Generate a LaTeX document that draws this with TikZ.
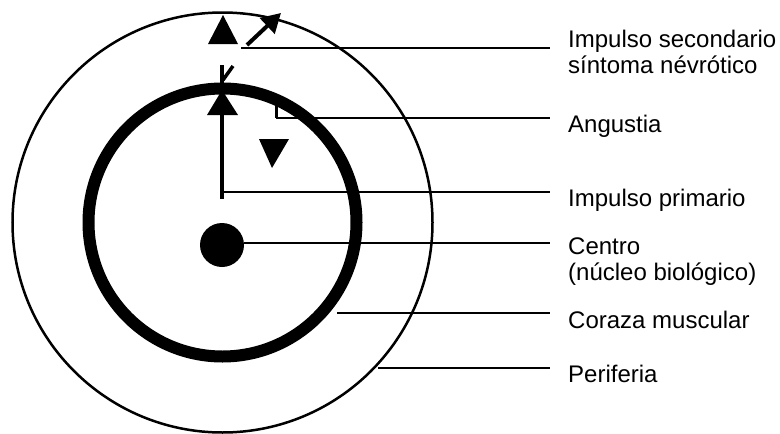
\documentclass[tikz,border=0pt]{standalone}
\usepackage{fontspec}
\setmainfont{Liberation Sans}
\usetikzlibrary{arrows.meta, positioning}

\begin{document}
\begin{tikzpicture}[
  x=1pt, y=-1pt,
  font=\fontsize{24}{26}\selectfont,
  lbl/.style={anchor=base west, inner sep=0pt, align=left},
  leader/.style={line width=1.5pt},
  tri/.style={fill=black, draw=none},
  impulse/.style={line width=4pt}
]
  \useasboundingbox (0,0) rectangle (780,434);

  % circles
  \coordinate (mid) at (222.5,222.5);
  \draw[line width=2.5pt] (mid) circle[radius=210];
  \draw[line width=12pt] (mid) circle[radius=134];
  \node[circle, fill=black, minimum size=44pt, inner sep=0pt] (core) at (222,245) {};

  % labels (base = last line)
  \coordinate (tipx) at (550,0);
  \node[lbl] (secund) at (568,73) {Impulso secondario\\síntoma névrótico};
  \node[lbl] (angst) at (568,132) {Angustia};
  \node[lbl] (prim) at (568,206) {Impulso primario};
  \node[lbl] (centro) at (568,280) {Centro\\(núcleo biológico)};
  \node[lbl] (coraza) at (568,328) {Coraza muscular};
  \node[lbl] (perif) at (568,382) {Periferia};

  % secondary impulse at the periphery
  \path[tri] (223,15) -- (238,44) -- (208,44) -- cycle;
  \coordinate (diagA) at (247,45);
  \coordinate (diagB) at (281,13);
  \draw[impulse, -{Triangle[length=19pt, width=21pt]}] (diagA) -- (diagB);
  \coordinate (secA) at (241,48);
  \draw[leader] (secA) -- (secA -| tipx);

  % primary impulse
  \coordinate (primTop) at (222,65);
  \coordinate (primBot) at (222,199);
  \draw[impulse] (primTop) -- (primBot);
  \coordinate (tickA) at (223,80);
  \coordinate (tickB) at (233,66);
  \draw[line width=3.5pt] (tickA) -- (tickB);
  \path[tri] (222,90) -- (238,115) -- (207,115) -- cycle;
  \coordinate (primA) at (222,192);
  \draw[leader] (primA) -- (primA -| tipx);

  % anxiety
  \coordinate (angA) at (276,101);
  \coordinate (angB) at (276,118);
  \draw[line width=3pt] (angA) -- (angB);
  \draw[leader] (angB) -- (angB -| tipx);
  \path[tri] (259,139) -- (289,139) -- (272,168) -- cycle;

  % centre, armour, periphery
  \draw[leader] (core.east |- 0,243) -- (tipx |- 0,243);
  \coordinate (corA) at (337,313);
  \draw[leader] (corA) -- (corA -| tipx);
  \coordinate (perA) at (378,368);
  \draw[leader] (perA) -- (perA -| tipx);
\end{tikzpicture}
\end{document}
